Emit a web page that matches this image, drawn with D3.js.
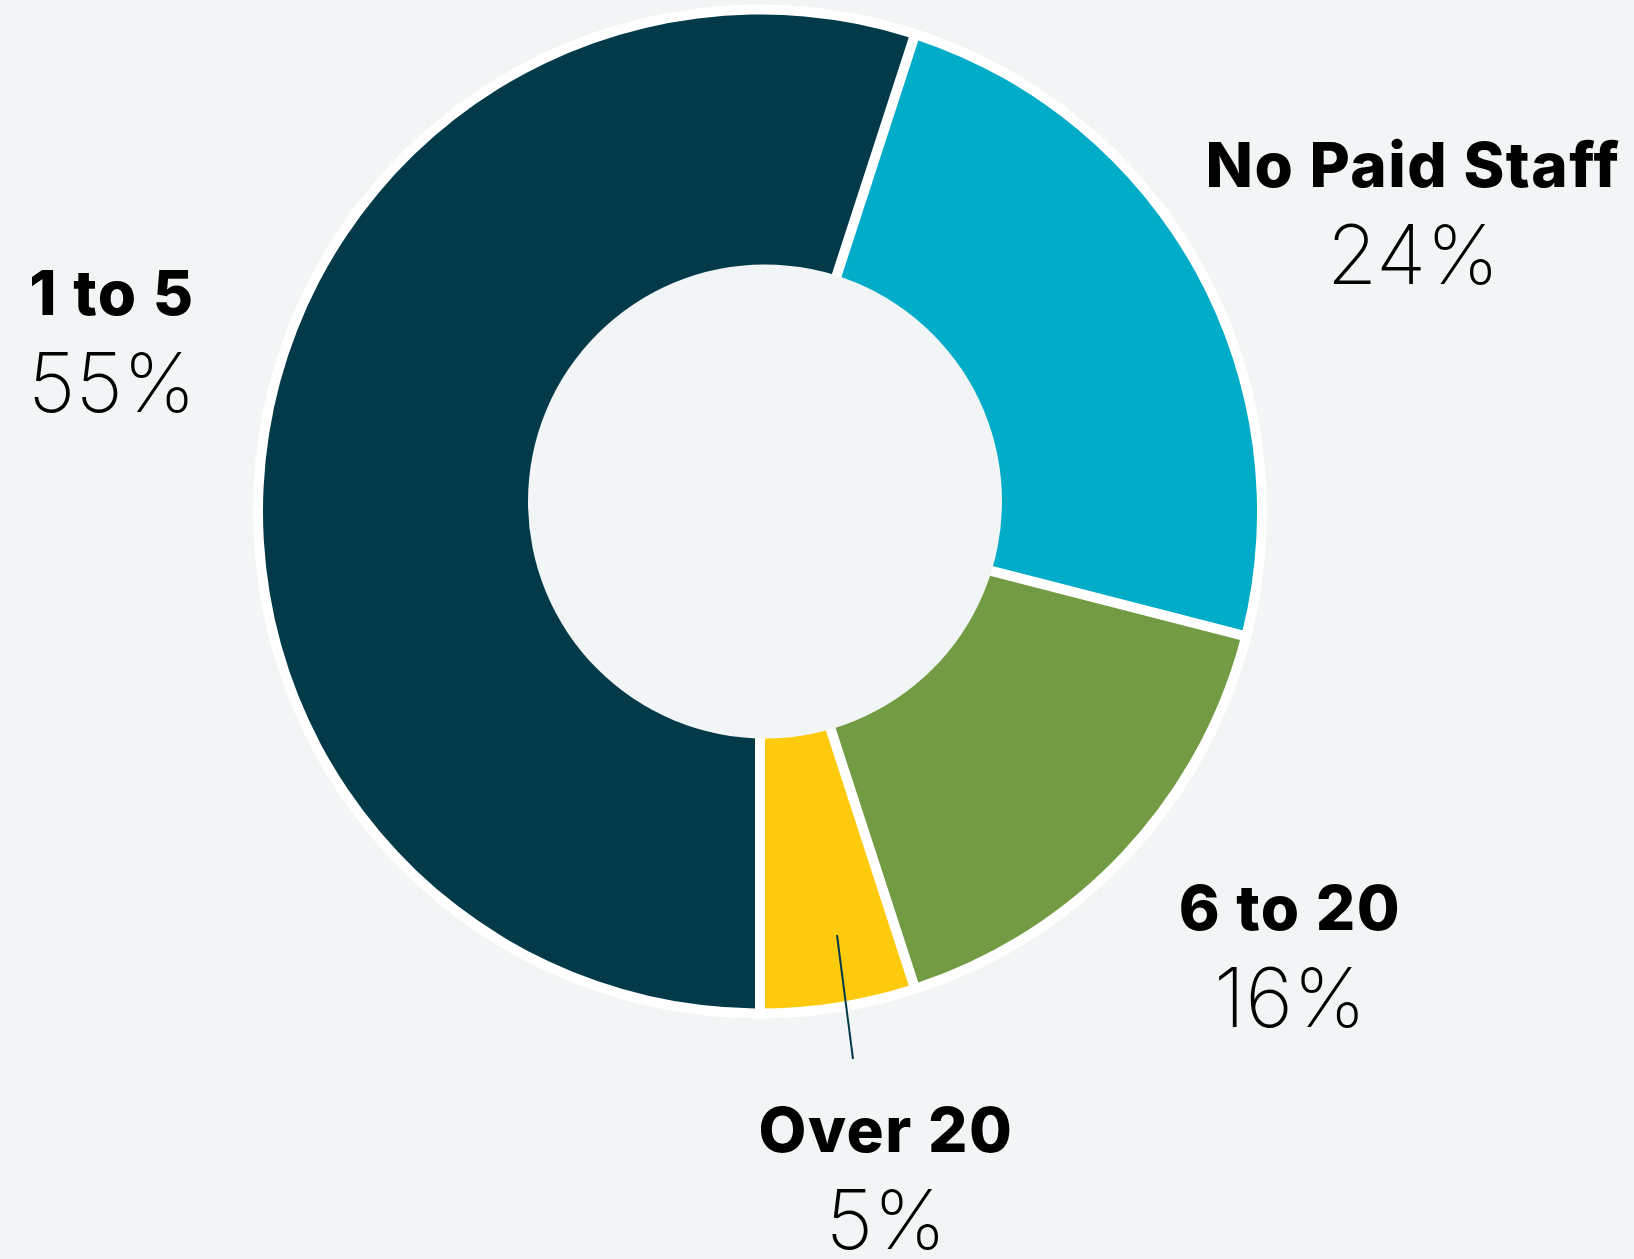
<!DOCTYPE html>
<html>
<head>
<meta charset="utf-8">
<script src="https://cdn.jsdelivr.net/npm/d3@7"></script>
<style>
  html, body { margin: 0; padding: 0; background: #f2f5f6; }
  svg { display: block; }
</style>
</head>
<body>
<svg id="chart"></svg>
<script>
// slice order runs clockwise from the top, starting at 18deg
const categories = ["No Paid Staff", "6 to 20", "Over 20", "1 to 5"];
const values = [24, 16, 5, 55];
const colors = ["#00acc8", "#729b43", "#feca0c", "#023a4a"];

// label anchors (centre x, baseline of name line)
const labelPos = {
  "No Paid Staff": [1413, 187],
  "6 to 20": [1290, 930],
  "Over 20": [886, 1152],
  "1 to 5": [112, 315]
};

const width = 1634, height = 1259;
const cx = 760, cy = 511.5;
const outerR = 497, ringR = 507;
const holeR = 237, holeDx = 5, holeDy = -10;
const gap = 10;

const svg = d3.select("#chart")
  .attr("width", width)
  .attr("height", height);

const g = svg.append("g")
  .attr("transform", `translate(${cx},${cy})`);

// white ring behind slices
g.append("circle")
  .attr("r", ringR)
  .attr("fill", "#ffffff");

const start = 18 * Math.PI / 180;
const pie = d3.pie()
  .sort(null)
  .value(d => d)
  .startAngle(start)
  .endAngle(start + 2 * Math.PI);

const arc = d3.arc()
  .innerRadius(180)
  .outerRadius(outerR)
  .padAngle(gap / outerR)
  .padRadius(outerR);

const arcs = pie(values);

g.selectAll("path.slice")
  .data(arcs)
  .join("path")
  .attr("class", "slice")
  .attr("d", arc)
  .attr("fill", (d, i) => colors[i]);

// centre hole, sits slightly off-centre like the original
g.append("circle")
  .attr("cx", holeDx)
  .attr("cy", holeDy)
  .attr("r", holeR)
  .attr("fill", "#f2f5f6");

// leader line for the small slice
svg.append("line")
  .attr("x1", 837).attr("y1", 935)
  .attr("x2", 853).attr("y2", 1059)
  .attr("stroke", "#023a4a")
  .attr("stroke-width", 2);

// labels
categories.forEach((c, i) => {
  const [x, y] = labelPos[c];
  svg.append("text")
    .attr("x", x)
    .attr("y", y)
    .attr("text-anchor", "middle")
    .style("font-family", "Inter, 'Open Sans', sans-serif")
    .style("font-weight", 800)
    .style("font-size", "62px")
    .style("letter-spacing", "1.5px")
    .style("fill", "#000")
    .text(c);
  svg.append("text")
    .attr("x", x)
    .attr("y", y + 97)
    .attr("text-anchor", "middle")
    .style("font-family", "Inter, 'Open Sans', sans-serif")
    .style("font-weight", 200)
    .style("font-size", "82px")
    .style("fill", "#000")
    .text(values[i] + "%");
});
</script>
</body>
</html>
